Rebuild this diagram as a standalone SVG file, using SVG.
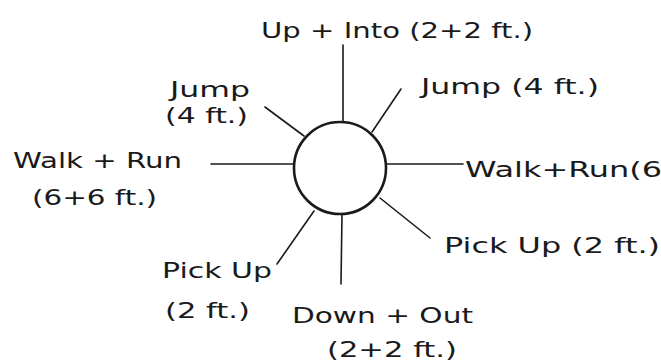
<svg xmlns="http://www.w3.org/2000/svg" width="661" height="362" viewBox="0 0 661 362">
<style>
.lbl{font-family:"DejaVu Sans","Liberation Sans",sans-serif;font-size:21px;fill:#1a1a1a;}
.ln{stroke:#1a1a1a;stroke-width:1.6;fill:none;stroke-linecap:round;}
</style>
<rect width="661" height="362" fill="#ffffff"/>
<g id="connectors">
<line class="ln" x1="343" y1="45" x2="343" y2="122"/>
<line class="ln" x1="401" y1="89" x2="372" y2="132"/>
<line class="ln" x1="265" y1="107" x2="304" y2="136"/>
<line class="ln" x1="211" y1="164" x2="294" y2="164"/>
<line class="ln" x1="386" y1="164" x2="463" y2="164"/>
<line class="ln" x1="380" y1="198" x2="430" y2="238"/>
<line class="ln" x1="314" y1="211" x2="277" y2="264"/>
<line class="ln" x1="342" y1="214" x2="341" y2="284"/>
</g>
<g id="center">
<circle cx="340" cy="168" r="46" fill="#ffffff" stroke="#1a1a1a" stroke-width="2.6"/>
</g>
<g id="up-into"><text class="lbl" x="261" y="38" textLength="272" lengthAdjust="spacingAndGlyphs">Up + Into (2+2 ft.)</text></g>
<g id="jump-right"><text class="lbl" x="421" y="94" textLength="178" lengthAdjust="spacingAndGlyphs">Jump (4 ft.)</text></g>
<g id="jump-left">
<text class="lbl" x="170" y="97" textLength="80" lengthAdjust="spacingAndGlyphs">Jump</text>
<text class="lbl" x="165" y="123" textLength="83" lengthAdjust="spacingAndGlyphs">(4 ft.)</text>
</g>
<g id="walk-left">
<text class="lbl" x="13" y="168" textLength="169" lengthAdjust="spacingAndGlyphs">Walk + Run</text>
<text class="lbl" x="32" y="205" textLength="125" lengthAdjust="spacingAndGlyphs">(6+6 ft.)</text>
</g>
<g id="walk-right"><text class="lbl" x="465" y="177" textLength="300" lengthAdjust="spacingAndGlyphs">Walk+Run(6+6 ft.)</text></g>
<g id="pick-right"><text class="lbl" x="444" y="253" textLength="216" lengthAdjust="spacingAndGlyphs">Pick Up (2 ft.)</text></g>
<g id="pick-left">
<text class="lbl" x="162" y="278" textLength="110" lengthAdjust="spacingAndGlyphs">Pick Up</text>
<text class="lbl" x="165" y="318" textLength="85" lengthAdjust="spacingAndGlyphs">(2 ft.)</text>
</g>
<g id="down-out">
<text class="lbl" x="292" y="323" textLength="181" lengthAdjust="spacingAndGlyphs">Down + Out</text>
<text class="lbl" x="327" y="357" textLength="130" lengthAdjust="spacingAndGlyphs">(2+2 ft.)</text>
</g>
</svg>
